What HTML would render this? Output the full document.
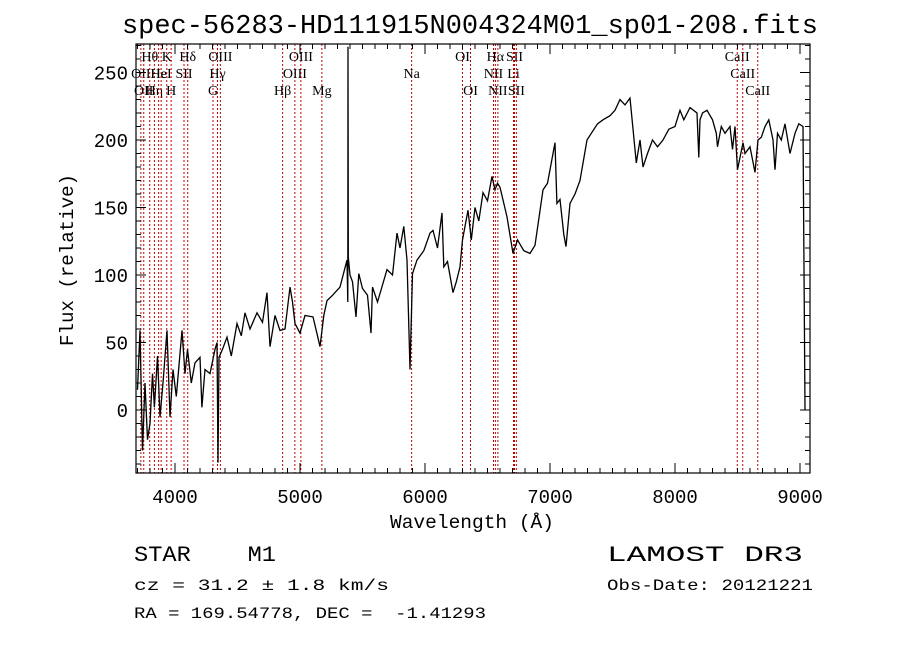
<!DOCTYPE html>
<html><head><meta charset="utf-8">
<style>
html,body{margin:0;padding:0;background:#fff;}
svg{display:block;}
text{font-family:"Liberation Mono",monospace;fill:#000;white-space:pre;}
.lbl{font-family:"Liberation Serif",serif;font-size:14px;}
</style></head>
<body>
<svg id="chart" width="900" height="649" viewBox="0 0 900 649" xmlns="http://www.w3.org/2000/svg" xml:space="preserve">
<rect width="900" height="649" fill="#fff"/>
<text x="470" y="33" text-anchor="middle" font-size="27" textLength="696" lengthAdjust="spacingAndGlyphs">spec-56283-HD111915N004324M01_sp01-208.fits</text>
<g id="lines"></g>
<g id="spec"></g>
<g id="axes"></g>
<text x="472" y="528" text-anchor="middle" font-size="19" textLength="164" lengthAdjust="spacingAndGlyphs">Wavelength (Å)</text>
<text transform="translate(73,260) rotate(-90)" text-anchor="middle" font-size="19" textLength="172" lengthAdjust="spacingAndGlyphs">Flux (relative)</text>
<text x="134" y="561" font-size="22" textLength="142" lengthAdjust="spacingAndGlyphs">STAR    M1</text>
<text x="607" y="561" font-size="22" textLength="196" lengthAdjust="spacingAndGlyphs">LAMOST DR3</text>
<text x="134" y="590" font-size="16" textLength="255" lengthAdjust="spacingAndGlyphs">cz = 31.2 ± 1.8 km/s</text>
<text x="607" y="590" font-size="16" textLength="206" lengthAdjust="spacingAndGlyphs">Obs-Date: 20121221</text>
<text x="134" y="618" font-size="16" textLength="352" lengthAdjust="spacingAndGlyphs">RA = 169.54778, DEC =  -1.41293</text>
</svg>
<script>
const wavelengths=[3700,3720,3740,3760,3780,3800,3820,3835,3860,3880,3904,3936,3960,3984,4010,4056,4080,4100,4130,4160,4200,4215,4240,4280,4320,4336,4344,4352,4380,4416,4450,4496,4530,4560,4600,4656,4700,4736,4760,4800,4840,4880,4920,4940,4960,5000,5040,5104,5140,5160,5190,5216,5260,5320,5376,5382,5384,5386,5400,5420,5448,5470,5500,5540,5568,5580,5620,5696,5740,5776,5800,5830,5856,5880,5900,5936,5990,6040,6064,6100,6136,6150,6180,6224,6250,6280,6300,6344,6370,6400,6430,6464,6500,6536,6560,6580,6600,6656,6704,6740,6790,6840,6880,6944,6980,7040,7055,7080,7110,7128,7160,7200,7240,7296,7330,7380,7424,7480,7520,7560,7600,7640,7660,7690,7720,7744,7780,7820,7860,7904,7950,8000,8040,8070,8120,8176,8190,8200,8220,8256,8300,8330,8340,8370,8400,8440,8460,8480,8500,8544,8560,8600,8640,8664,8690,8720,8750,8784,8800,8820,8850,8880,8920,8960,8990,9024,9040,9041];
const fluxValues=[15,59,-30,20,-22,-10,27,2,40,-5,20,59,-5,30,10,59,27,45,20,35,39,2,30,27,45,50,-39,39,45,54,40,64,55,72,60,72,65,87,47,70,59,60,91,80,64,57,70,69,55,47,70,81,85,91,111,80,269,113,100,95,69,101,90,85,57,91,80,104,100,131,120,136,111,30,101,111,118,131,133,120,146,106,110,87,95,106,126,148,126,150,140,161,155,173,163,168,165,143,116,126,118,116,122,163,168,198,153,156,130,121,153,160,170,200,205,212,215,218,222,230,226,231,212,183,200,180,190,200,195,200,208,210,222,215,224,220,187,215,220,222,215,205,195,210,205,210,193,210,178,198,190,195,176,200,202,210,215,200,178,205,200,212,190,205,212,210,0];
const lineWaves=[3727,3750,3798,3835,3869,3889,3934,3969,4072,4102,4304,4340,4363,4861,4959,5007,5175,5893,6300,6364,6548,6563,6583,6708,6716,6731,8498,8542,8662];
const lineLabels=["OII","OII","Hθ","Hη","He","HeI","K","H","SII","Hδ","G","Hγ","OIII","Hβ","OIII","OIII","Mg","Na","OI","OI","NII","Hα","NII","Li","SII","SII","CaII","CaII","CaII"];
const labelRows=[1,2,0,2,1,1,0,2,1,0,2,1,0,2,1,0,2,1,0,2,1,0,2,1,0,2,0,1,2];
const xTicks=[4000,5000,6000,7000,8000,9000];
const yTicks=[0,50,100,150,200,250];

const X0=137.5,XL=3700,XS=0.125,Y0=410,YS=1.35;
const L=136,R=810,T=44,B=473;
const xs=w=>X0+(w-XL)*XS;
const ys=f=>Y0-f*YS;
const NS='http://www.w3.org/2000/svg';
function mk(tag,attrs,parent){const e=document.createElementNS(NS,tag);for(const k in attrs)e.setAttribute(k,attrs[k]);parent.appendChild(e);return e;}

const gl=document.getElementById('lines');
lineWaves.forEach((w,i)=>{
  const x=xs(w);
  const ln=mk('line',{x1:x,x2:x,y1:T,y2:B,stroke:'#c00000','stroke-width':1,'stroke-dasharray':'2,2'},gl);
  
  
  const t=mk('text',{x:x,y:61+labelRows[i]*17,'text-anchor':'middle',class:'lbl'},gl);
  t.textContent=lineLabels[i];
  
  
});

const gs=document.getElementById('spec');
const pts=wavelengths.map((w,i)=>xs(w).toFixed(1)+','+ys(Math.max(-46,Math.min(270,fluxValues[i]))).toFixed(1)).join(' ');
const pl=mk('polyline',{points:pts,fill:'none',stroke:'#000','stroke-width':1.3},gs);



const ga=document.getElementById('axes');
const fr=mk('rect',{x:L,y:T,width:R-L,height:B-T,fill:'none',stroke:'#000','stroke-width':1.2},ga);


for(let w=3700;w<=9070;w+=100){
  const x=xs(w);const len=(w%1000===0)?10:5;
  mk('line',{x1:x,x2:x,y1:B,y2:B-len,stroke:'#000'},ga);
  mk('line',{x1:x,x2:x,y1:T,y2:T+len,stroke:'#000'},ga);
}
for(let f=-40;f<=270;f+=10){
  const y=ys(f);const len=(f%50===0)?10:5;
  mk('line',{x1:L,x2:L+len,y1:y,y2:y,stroke:'#000'},ga);
  mk('line',{x1:R,x2:R-len,y1:y,y2:y,stroke:'#000'},ga);
}
xTicks.forEach(v=>{
  const t=mk('text',{x:xs(v),y:503,'text-anchor':'middle','font-size':19},ga);
  t.textContent=v;
  
  
});
yTicks.forEach(v=>{
  const t=mk('text',{x:128,y:ys(v)+7,'text-anchor':'end','font-size':19},ga);
  t.textContent=v;
  
  
});
</script>
</body></html>
